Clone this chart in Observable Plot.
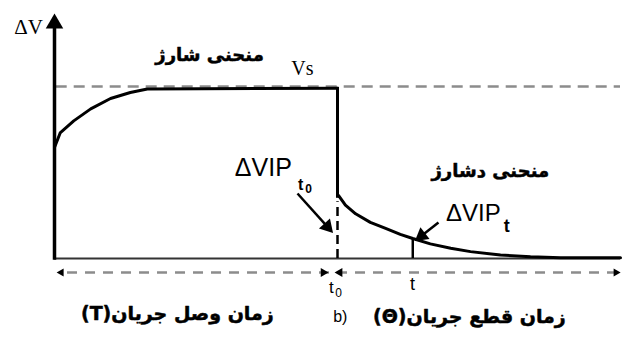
<!DOCTYPE html>
<html><head><meta charset="utf-8">
<script src="https://cdn.jsdelivr.net/npm/d3@7"></script>
<script src="https://cdn.jsdelivr.net/npm/@observablehq/plot@0.6"></script>
<style>html,body{margin:0;padding:0;background:#fff;} svg{display:block;background:#fff}</style>
</head><body><div id="chart"></div>
<script>
// ---- data ----
const chargeTime = [0, 1, 3.4, 6.4, 9.9, 13.4, 16.4, 50];
const chargeValue = [0.645, 0.73, 0.80, 0.87, 0.93, 0.965, 0.985, 0.99];
const dischargeTime = [50.2, 51.4, 53.2, 55.8, 58.5, 61.1, 63.3, 66.4, 70.0, 73.5, 78.8, 84.1, 89.4, 100];
const dischargeValue = [0.366, 0.31, 0.26, 0.21, 0.175, 0.14, 0.116, 0.085, 0.06, 0.04, 0.02, 0.01, 0.005, 0.005];
const supplyLevel = 1;      // Vs
const switchOff = 50;       // t0
const sampleTime = 63.3;    // t
const sampleValue = 0.116;  // ΔVIP at t
const curveLabels = ["منحنی شارژ", "منحنی دشارژ"];
const symbolLabels = ["ΔV", "Vs", "ΔVIP", "ΔVIP"];
const subLabels = ["t", "0", "t"];
const tickLabels = ["t", "0", "t", "b)"];
const phaseLabels = ["زمان وصل جریان(T)", "زمان قطع جریان(Θ)"];

const rtl = s => "\u202B" + s + "\u202C";
const charge = chargeTime.map((t, i) => ({t, v: chargeValue[i]}));
const discharge = dischargeTime.map((t, i) => ({t, v: dischargeValue[i]}));

const black = "#000", grey = "#8c8c8c";
const arabic = "DejaVu Sans, sans-serif";
const sans = "Liberation Sans, Arial, sans-serif";
const serif = "Liberation Serif, Times New Roman, serif";
const arabicStyle = {fontFamily: arabic, fontWeight: "bold", fill: black, stroke: black, strokeWidth: 0.5};

const chart = Plot.plot({
  width: 624, height: 342,
  margin: 0,
  x: {domain: [0, 100], range: [54, 620], axis: null},
  y: {domain: [-0.5, 1.5], range: [344, 0], axis: null},
  style: {background: "#fff", overflow: "visible"},
  marks: [
    // Vs dashed level
    Plot.ruleY([supplyLevel], {x1: 0.3, x2: 100, stroke: grey, strokeWidth: 2.5, strokeDasharray: "11,7"}),
    // time baseline
    Plot.ruleY([0], {x1: 0, x2: 100, stroke: "#333", strokeWidth: 2}),
    // dashed double arrow line under the axis
    Plot.ruleY([-0.081], {x1: 2.3, x2: 99, stroke: grey, strokeWidth: 2.5, strokeDasharray: "10,8"}),
    Plot.dot([{t: 1.2, r: 270}, {t: 47.5, r: 90}, {t: 50.4, r: 270}, {t: 99.2, r: 90}],
      {x: "t", y: () => -0.081, symbol: "triangle", r: d => d.t > 40 && d.t < 60 ? 5 : 4, rotate: "r", fill: black, stroke: "none"}),
    // vertical axis with arrow
    Plot.ruleX([0], {y1: -0.01, y2: 1.34, stroke: black, strokeWidth: 3.5}),
    Plot.dot([{t: 0, v: 1.366}], {x: "t", y: "v", symbol: "triangle", r: 6.5, fill: black, stroke: "none"}),
    // charge curve
    Plot.line(charge, {x: "t", y: "v", stroke: black, strokeWidth: 3}),
    // switch-off drop
    Plot.ruleX([switchOff], {y1: 0.35, y2: 0.995, stroke: black, strokeWidth: 3}),
    Plot.ruleX([switchOff], {y1: 0, y2: 0.33, stroke: black, strokeWidth: 2.5, strokeDasharray: "9,5"}),
    // discharge curve
    Plot.line(discharge, {x: "t", y: "v", stroke: black, strokeWidth: 3}),
    // sample time marker
    Plot.ruleX([sampleTime], {y1: 0, y2: sampleValue, stroke: black, strokeWidth: 2.5}),
    // pointer arrows
    Plot.link([{x1: 42.93, y1: 0.378, x2: 48.2, y2: 0.185}, {x1: 67.84, y1: 0.209, x2: 64.86, y2: 0.1326}],
      {x1: "x1", y1: "y1", x2: "x2", y2: "y2", stroke: black, strokeWidth: 2.5}),
    Plot.dot([{t: 48.2, v: 0.185, r: 138}, {t: 64.86, v: 0.1326, r: 232}],
      {x: "t", y: "v", symbol: "triangle", r: 5.5, rotate: "r", fill: black, stroke: "none"}),
    // labels
    Plot.text([symbolLabels[0]], {x: -4.6, y: 1.343, text: d => d, fontFamily: serif, fontSize: 21, fill: black}),
    Plot.text([rtl(curveLabels[0])], {x: 27.4, y: 1.18, text: d => d, fontSize: 18, ...arabicStyle}),
    Plot.text([symbolLabels[1]], {x: 43.8, y: 1.105, text: d => d, fontFamily: serif, fontSize: 20, fill: black}),
    Plot.text([symbolLabels[2]], {x: 36.9, y: 0.529, text: d => d, fontFamily: sans, fontSize: 25, fill: black}),
    Plot.text([subLabels[0]], {x: 43.5, y: 0.43, text: d => d, fontFamily: sans, fontWeight: "bold", fontSize: 16, fill: black}),
    Plot.text([subLabels[1]], {x: 44.9, y: 0.405, text: d => d, fontFamily: sans, fontWeight: "bold", fontSize: 12, fill: black}),
    Plot.text([rtl(curveLabels[1])], {x: 77.0, y: 0.506, text: d => d, fontSize: 18, ...arabicStyle}),
    Plot.text([symbolLabels[3]], {x: 74.0, y: 0.262, text: d => d, fontFamily: sans, fontSize: 24, fill: black}),
    Plot.text([subLabels[2]], {x: 79.9, y: 0.19, text: d => d, fontFamily: sans, fontWeight: "bold", fontSize: 18, fill: black}),
    Plot.text([tickLabels[0]], {x: 48.9, y: -0.169, text: d => d, fontFamily: sans, fontSize: 17, fill: black}),
    Plot.text([tickLabels[1]], {x: 50.2, y: -0.2, text: d => d, fontFamily: sans, fontSize: 12, fill: black}),
    Plot.text([tickLabels[2]], {x: 63.25, y: -0.151, text: d => d, fontFamily: sans, fontSize: 18, fill: black}),
    Plot.text([tickLabels[3]], {x: 50.5, y: -0.337, text: d => d, fontFamily: sans, fontSize: 16, fill: black}),
    Plot.text([rtl(phaseLabels[0])], {x: 21.7, y: -0.325, text: d => d, fontSize: 19, ...arabicStyle}),
    Plot.text([rtl(phaseLabels[1])], {x: 73.3, y: -0.337, text: d => d, fontSize: 19, ...arabicStyle})
  ]
});
document.getElementById("chart").append(chart);
</script>
</body></html>
